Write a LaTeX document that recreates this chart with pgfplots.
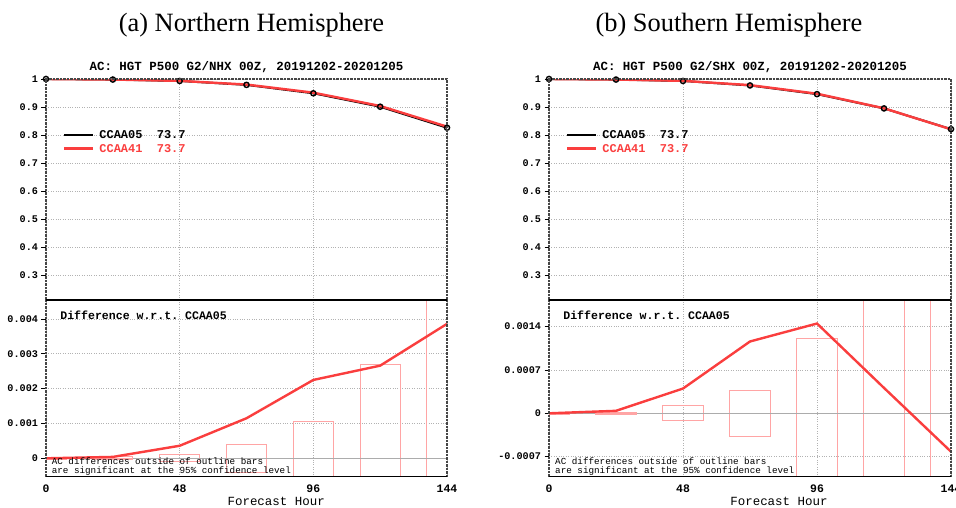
\documentclass[border=0pt]{standalone}
\usepackage{fontspec}
\setmainfont{Liberation Serif}
\setmonofont{Liberation Mono}
\usepackage{pgfplots}
\usepackage{pgfplotstable}
\pgfplotsset{compat=1.18}

\definecolor{acred}{RGB}{250,62,62}
\definecolor{cipink}{RGB}{255,165,165}
\definecolor{framegray}{RGB}{70,70,70}

\pgfplotstableread{
x a05 a41
0 1.000 1.000
24 0.998 0.99804
48 0.993 0.99336
72 0.979 0.98015
96 0.949 0.95125
120 0.901 0.90366
144 0.826 0.82986
}\nhac

\pgfplotstableread{
x d ci
0 0 0.00003
24 0.00004 0.00004
48 0.00036 0.0001
72 0.00115 0.00041
96 0.00225 0.00106
120 0.00266 0.00268
144 0.00386 0.008
}\nhdiff

\pgfplotstableread{
x a05 a41
0 1.000 1.000
24 0.998 0.99804
48 0.993 0.9934
72 0.977 0.97816
96 0.946 0.94745
120 0.895 0.89541
144 0.821 0.82038
}\shac

\pgfplotstableread{
x d ci
0 0 0.00002
24 0.00004 0.00002
48 0.0004 0.00012
72 0.00116 0.00037
96 0.00145 0.00121
120 0.00041 0.003
144 -0.00062 0.003
}\shdiff

\pgfplotsset{
  acbase/.style={
    scale only axis, xmin=0, xmax=144,
    clip mode=individual,
    axis line style={draw=none},
    xtick={0,48,96,144},
    grid=major,
    grid style={dotted, gray!60, line width=0.9bp},
    tick label style={font=\fontsize{10.2}{12}\selectfont\ttfamily\bfseries, text=black},
    ytick pos=left, xtick pos=bottom, tick align=outside,
    major tick length=4.5bp,
    ytick style={black, line width=0.9bp},
    xtick style={draw=none},
    scaled y ticks=false,
  },
  upper/.style={
    acbase, width=401bp, height=221bp,
    ymin=0.2107, ymax=1,
    ytick={0.3,0.4,0.5,0.6,0.7,0.8,0.9,1},
    yticklabels={0.3,0.4,0.5,0.6,0.7,0.8,0.9,1},
    xticklabels={},
    legend style={at={(0.042,0.776)}, anchor=north west, draw=none, fill=none,
      inner sep=0pt, column sep=5bp, row sep=0pt,
      font=\fontsize{12}{12}\selectfont\ttfamily\bfseries,
      nodes={inner xsep=0pt, inner ysep=1.6bp, text height=8.5bp, text depth=1.5bp}},
    legend cell align=left,
    legend image code/.code={\draw[##1] (0bp,0bp) -- (29bp,0bp);},
  },
  lower/.style={
    acbase, width=401bp, height=176.7bp,
    xticklabels={0,48,96,144},
    xticklabel style={font=\fontsize{11.5}{12}\selectfont\ttfamily\bfseries},
  },
}

\newcommand{\upperframe}{%
  \draw[framegray, line width=1.2bp, dash pattern=on 2.5bp off 1bp]
    (rel axis cs:0,0) -- (rel axis cs:0,1) -- (rel axis cs:1,1) -- (rel axis cs:1,0);}
\newcommand{\lowerframe}{%
  \draw[framegray, line width=1.2bp, dash pattern=on 2.5bp off 1bp]
    (rel axis cs:0,0) -- (rel axis cs:0,1) (rel axis cs:1,1) -- (rel axis cs:1,0);
  \draw[black, line width=1.3bp] (rel axis cs:0,0) -- (rel axis cs:1,0)
    (rel axis cs:0,1) -- (rel axis cs:1,1);}

\begin{document}
\begin{tikzpicture}
\useasboundingbox (0bp,0bp) rectangle (956bp,508bp);

\node[anchor=base, font=\fontsize{26.5}{30}\selectfont] at (251.5bp,476.3bp) {(a) Northern Hemisphere};
\node[anchor=base, font=\fontsize{26.5}{30}\selectfont] at (729bp,476.3bp) {(b) Southern Hemisphere};

% ---------- NH upper
\begin{axis}[upper, at={(46bp,208bp)}, anchor=south west]
\addplot[black, line width=2bp] table[x=x,y=a05]{\nhac};
\addlegendentry{CCAA05\ \ 73.7}
\addplot[acred, line width=2.4bp] table[x=x,y=a41]{\nhac};
\addlegendentry{\textcolor{acred}{CCAA41\ \ 73.7}}
\addplot[black, only marks, mark=o, mark size=2.6bp, mark options={line width=1.4bp}, forget plot] table[x=x,y=a05]{\nhac};
\upperframe
\node[anchor=base, font=\fontsize{12.5}{13}\selectfont\ttfamily\bfseries] at (rel axis cs:0.5,1) [yshift=9bp] {AC: HGT P500 G2/NHX 00Z, 20191202-20201205};
\end{axis}

% ---------- NH lower
\begin{axis}[lower, at={(46bp,31.3bp)}, anchor=south west,
  ymin=-0.000528, ymax=0.004545,
  ytick={0,0.001,0.002,0.003,0.004},
  yticklabels={0,0.001,0.002,0.003,0.004}]
\addplot[gray!65, line width=1bp, forget plot] coordinates {(0,0) (144,0)};
\addplot[ybar, bar width=14.4, bar shift=0pt, draw=cipink, fill=none, line width=1bp, forget plot] table[x=x,y=ci]{\nhdiff};
\addplot[ybar, bar width=14.4, bar shift=0pt, draw=cipink, fill=none, line width=1bp, forget plot] table[x=x,y expr=-\thisrow{ci}]{\nhdiff};
\addplot[gray!65, line width=1bp, forget plot, restrict x to domain=40:152] coordinates {(40,0) (152,0)};
\addplot[acred, line width=2.4bp] table[x=x,y=d]{\nhdiff};
\lowerframe
\node[anchor=west, font=\fontsize{11.6}{12}\selectfont\ttfamily\bfseries] at (rel axis cs:0.027,0.915) {Difference w.r.t. CCAA05};
\node[anchor=west, font=\fontsize{9.3}{10}\selectfont\ttfamily, inner sep=0pt] at (rel axis cs:0.014,0.085) {AC differences outside of outline bars};
\node[anchor=west, font=\fontsize{9.3}{10}\selectfont\ttfamily, inner sep=0pt] at (rel axis cs:0.014,0.034) {are significant at the 95\% confidence level};
\node[font=\fontsize{12.5}{13}\selectfont\ttfamily] at (rel axis cs:0.574,0) [yshift=-24.3bp] {Forecast Hour};
\end{axis}

% ---------- SH upper
\begin{axis}[upper, width=402bp, at={(549bp,208bp)}, anchor=south west]
\addplot[black, line width=2bp] table[x=x,y=a05]{\shac};
\addlegendentry{CCAA05\ \ 73.7}
\addplot[acred, line width=2.4bp] table[x=x,y=a41]{\shac};
\addlegendentry{\textcolor{acred}{CCAA41\ \ 73.7}}
\addplot[black, only marks, mark=o, mark size=2.6bp, mark options={line width=1.4bp}, forget plot] table[x=x,y=a05]{\shac};
\upperframe
\node[anchor=base, font=\fontsize{12.5}{13}\selectfont\ttfamily\bfseries] at (rel axis cs:0.5,1) [yshift=9bp] {AC: HGT P500 G2/SHX 00Z, 20191202-20201205};
\end{axis}

% ---------- SH lower
\begin{axis}[lower, width=402bp, at={(549bp,31.3bp)}, anchor=south west,
  ymin=-0.001024, ymax=0.00183,
  ytick={-0.0007,0,0.0007,0.0014},
  yticklabels={-0.0007,0,0.0007,0.0014}]
\addplot[gray!65, line width=1bp, forget plot] coordinates {(0,0) (144,0)};
\addplot[ybar, bar width=14.4, bar shift=0pt, draw=cipink, fill=none, line width=1bp, forget plot] table[x=x,y=ci]{\shdiff};
\addplot[ybar, bar width=14.4, bar shift=0pt, draw=cipink, fill=none, line width=1bp, forget plot] table[x=x,y expr=-\thisrow{ci}]{\shdiff};
\addplot[gray!65, line width=1bp, forget plot] coordinates {(40,0) (144,0)};
\addplot[acred, line width=2.4bp] table[x=x,y=d]{\shdiff};
\lowerframe
\node[anchor=west, font=\fontsize{11.6}{12}\selectfont\ttfamily\bfseries] at (rel axis cs:0.027,0.915) {Difference w.r.t. CCAA05};
\node[anchor=west, font=\fontsize{9.3}{10}\selectfont\ttfamily, inner sep=0pt] at (rel axis cs:0.015,0.085) {AC differences outside of outline bars};
\node[anchor=west, font=\fontsize{9.3}{10}\selectfont\ttfamily, inner sep=0pt] at (rel axis cs:0.015,0.034) {are significant at the 95\% confidence level};
\node[font=\fontsize{12.5}{13}\selectfont\ttfamily] at (rel axis cs:0.572,0) [yshift=-24.3bp] {Forecast Hour};
\end{axis}
\end{tikzpicture}
\end{document}
